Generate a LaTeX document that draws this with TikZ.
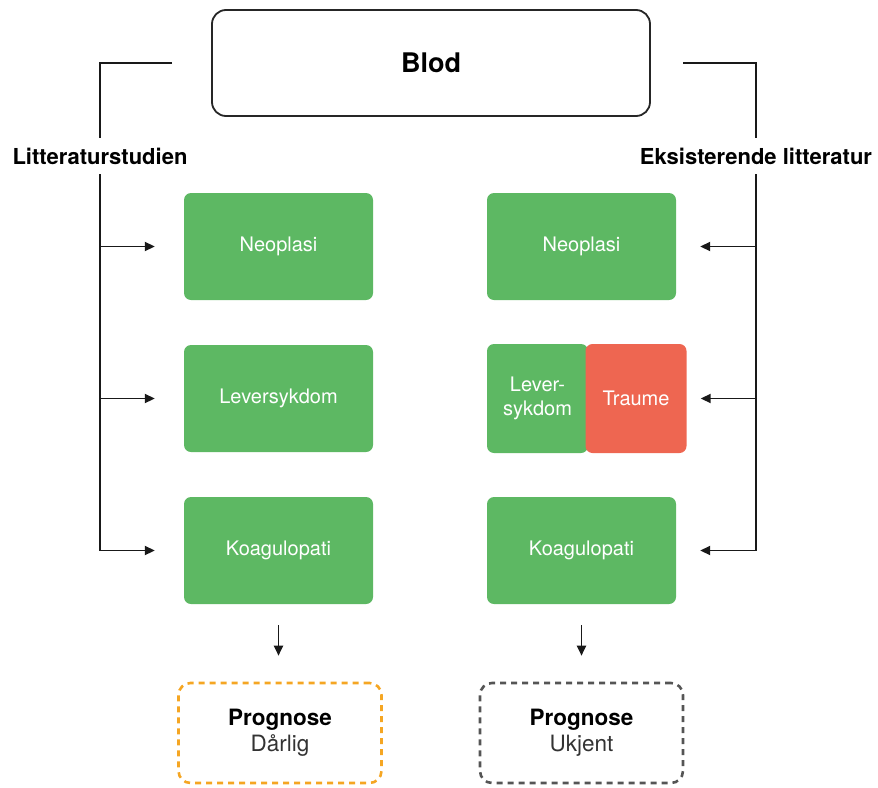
\documentclass[tikz,border=0pt]{standalone}
\usepackage{fontspec}
\setmainfont{TeX Gyre Heros}
\usetikzlibrary{arrows.meta}
\definecolor{boxgreen}{HTML}{5DB863}
\definecolor{boxred}{HTML}{EE6651}
\definecolor{progorange}{HTML}{F5A623}
\definecolor{proggray}{HTML}{555555}
\begin{document}
\begin{tikzpicture}[x=1pt,y=-1pt,
  titlebox/.style={draw=black!85,line width=1.8pt,rounded corners=14pt,
    minimum width=438pt,minimum height=106pt,font=\fontsize{27}{31}\selectfont\bfseries},
  sidelabel/.style={font=\fontsize{22}{26}\selectfont\bfseries,inner sep=0pt,
    minimum height=36pt},
  cause/.style={fill=boxgreen,rounded corners=7pt,minimum width=189pt,minimum height=107pt,
    text=white,font=\fontsize{20}{24}\selectfont,align=center},
  halfbox/.style={rounded corners=7pt,minimum height=109pt,
    text=white,font=\fontsize{20}{24}\selectfont,align=center,inner sep=0pt},
  progbox/.style={line width=2.6pt,dash pattern=on 6pt off 5pt,rounded corners=12pt,
    minimum width=203pt,minimum height=100pt,align=center,
    font=\fontsize{22.5}{26}\selectfont,text=black!80},
  conn/.style={line width=1.9pt,black!90},
  arr/.style={conn,-{Triangle[length=10pt,width=9pt]}}
]
\useasboundingbox (0,0) rectangle (878,787);

% top box
\node[titlebox] (blod) at (431,63) {Blod};

% side labels
\node[sidelabel] (lit) at (100,156) {Litteraturstudien};
\node[sidelabel] (eks) at (756,156) {Eksisterende litteratur};

% left column
\node[cause] (neoL) at (278.5,246.5) {Neoplasi};
\node[cause] (levL) at (278.5,398.5) {Leversykdom};
\node[cause] (koaL) at (278.5,550.5) {Koagulopati};

% right column
\node[cause] (neoR) at (581.5,246.5) {Neoplasi};
\node[halfbox,fill=boxgreen,minimum width=101pt] (levR) at (537.5,398.5) {Lever-\\sykdom};
\node[halfbox,fill=boxred,minimum width=101pt] (trR) at (636,398.5) {Traume};
\node[cause] (koaR) at (581.5,550.5) {Koagulopati};

% outcome boxes
\node[progbox,draw=progorange] (progL) at (280,733) {{\bfseries\color{black}Prognose}\\Dårlig};
\node[progbox,draw=proggray] (progR) at (581.5,733) {{\bfseries\color{black}Prognose}\\Ukjent};

% left bracket from the top box
\coordinate (lstart) at (172,63);
\coordinate (lend) at (lit.south |- koaL.west);
\draw[conn] (lstart) -| (lit.north);
\draw[conn] (lit.south) -- (lend);
\draw[arr,shorten >=29pt] (lit.south |- neoL.west) -- (neoL.west);
\draw[arr,shorten >=29pt] (lit.south |- levL.west) -- (levL.west);
\draw[arr,shorten >=29pt] (lend) -- (koaL.west);

% right bracket from the top box
\coordinate (rstart) at (683,63);
\coordinate (rend) at (eks.south |- koaR.east);
\draw[conn] (rstart) -| (eks.north);
\draw[conn] (eks.south) -- (rend);
\draw[arr,shorten >=24pt] (eks.south |- neoR.east) -- (neoR.east);
\draw[arr,shorten >=14pt] (eks.south |- trR.east) -- (trR.east);
\draw[arr,shorten >=24pt] (rend) -- (koaR.east);

% down to the outcomes
\draw[arr,shorten <=21pt,shorten >=26pt] (koaL.south) -- (koaL.south |- progL.north);
\draw[arr,shorten <=21pt,shorten >=26pt] (koaR.south) -- (koaR.south |- progR.north);
\end{tikzpicture}
\end{document}
